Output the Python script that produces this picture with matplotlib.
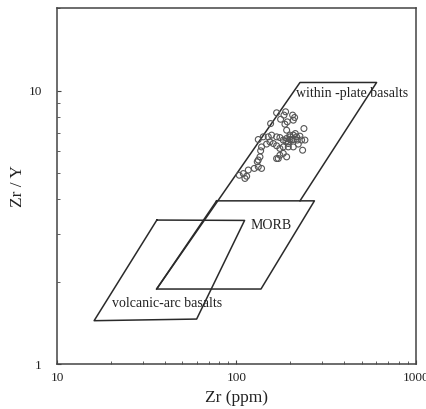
import matplotlib
matplotlib.use("Agg")
import matplotlib.pyplot as plt
from matplotlib.ticker import LogLocator, NullFormatter, FixedLocator, FixedFormatter

plt.rcParams['font.family'] = ['Liberation Serif', 'DejaVu Serif']

# Field boundaries (Zr ppm, Zr/Y)
wpb_zr = [35.9, 226, 604, 226]
wpb_ratio = [1.88, 10.7, 10.7, 3.95]
morb_zr = [77.5, 272, 137, 35.9, 77.5]
morb_ratio = [3.95, 3.95, 1.88, 1.88, 3.95]
vab_zr = [36, 111, 60, 16.1, 36]
vab_ratio = [3.36, 3.35, 1.46, 1.44, 3.36]

# Samples
zr = [167.4, 187.9, 184, 205.6, 210.9, 176.2, 192, 155, 186.3, 207.4, 237.7, 190.4,
      132.3, 141, 150.4, 157, 167.4, 174.6, 182.3, 190.4, 198.6, 207.4, 216.4, 225.8,
      212.8, 198.6, 194.5, 202.9, 207.4, 198.6, 188.7, 218.3, 240.8, 230.7, 221.1,
      207.4, 194.5, 182.3, 174.6, 167.4, 160.4, 153.7, 147.2, 138, 136.4, 182.3,
      174.6, 171, 167.4, 190.4, 233.7, 194.5,
      135.2, 130.6, 132.3, 138, 125.7, 116.4, 109.2, 103.7, 114, 111.5, 132.3]
zr_y = [8.29, 8.36, 8.13, 8.13, 7.97, 7.85, 7.68, 7.57, 7.53, 7.79, 7.26, 7.16,
        6.62, 6.77, 6.77, 6.87, 6.77, 6.73, 6.59, 6.68, 6.77, 6.87, 6.77, 6.81,
        6.96, 6.87, 6.49, 6.59, 6.62, 6.62, 6.52, 6.59, 6.59, 6.59, 6.37,
        6.22, 6.22, 6.22, 6.14, 6.28, 6.40, 6.49, 6.37, 6.22, 6.02, 5.89,
        5.80, 5.64, 5.64, 5.72, 6.05, 6.40,
        5.72, 5.49, 5.26, 5.19, 5.19, 5.12, 4.97, 4.90, 4.86, 4.77, 5.57]

fig = plt.figure(figsize=(4.27, 4.09), dpi=100)
ax = fig.add_axes([0.1335, 0.110, 0.8405, 0.870])
ax.set_xscale('log')
ax.set_yscale('log')
ax.set_xlim(10, 1000)
ax.set_ylim(1, 20)

lc = '#2a2a2a'
ax.plot(wpb_zr, wpb_ratio, color=lc, lw=1.1)
ax.plot(morb_zr, morb_ratio, color=lc, lw=1.1)
ax.plot(vab_zr, vab_ratio, color=lc, lw=1.1)

ax.scatter(zr, zr_y, s=18, facecolors='none', edgecolors='#555555', linewidths=0.8, zorder=3)

ax.text(214, 9.75, 'within -plate basalts', fontsize=10, color='#222222', va='center', ha='left')
ax.text(120, 3.22, 'MORB', fontsize=10, color='#222222', va='center', ha='left')
ax.text(20.2, 1.67, 'volcanic-arc basalts', fontsize=10, color='#222222', va='center', ha='left')

ax.xaxis.set_major_locator(FixedLocator([10, 100, 1000]))
ax.xaxis.set_major_formatter(FixedFormatter(['10', '100', '1000']))
ax.yaxis.set_major_locator(FixedLocator([1, 10]))
ax.yaxis.set_major_formatter(FixedFormatter(['1', '10']))
ax.xaxis.set_minor_locator(LogLocator(base=10, subs=range(2, 10)))
ax.yaxis.set_minor_locator(LogLocator(base=10, subs=range(2, 10)))
ax.xaxis.set_minor_formatter(NullFormatter())
ax.yaxis.set_minor_formatter(NullFormatter())
ax.tick_params(which='both', direction='in', colors='#444444', labelcolor='#222222',
               labelsize=9.5, top=False, right=False)
ax.tick_params(which='major', length=3, width=0.8)
ax.tick_params(which='minor', length=2, width=0.6)
ax.tick_params(axis='x', which='major', pad=6)
ax.tick_params(axis='y', which='major', pad=11)
for sp in ax.spines.values():
    sp.set_color('#444444')
    sp.set_linewidth(1.1)

ax.set_xlabel('Zr (ppm)', fontsize=12.5, color='#222222', labelpad=4)
ax.set_ylabel('Zr / Y', fontsize=12.5, color='#222222', labelpad=2)

fig.savefig('out.png', dpi=100)
